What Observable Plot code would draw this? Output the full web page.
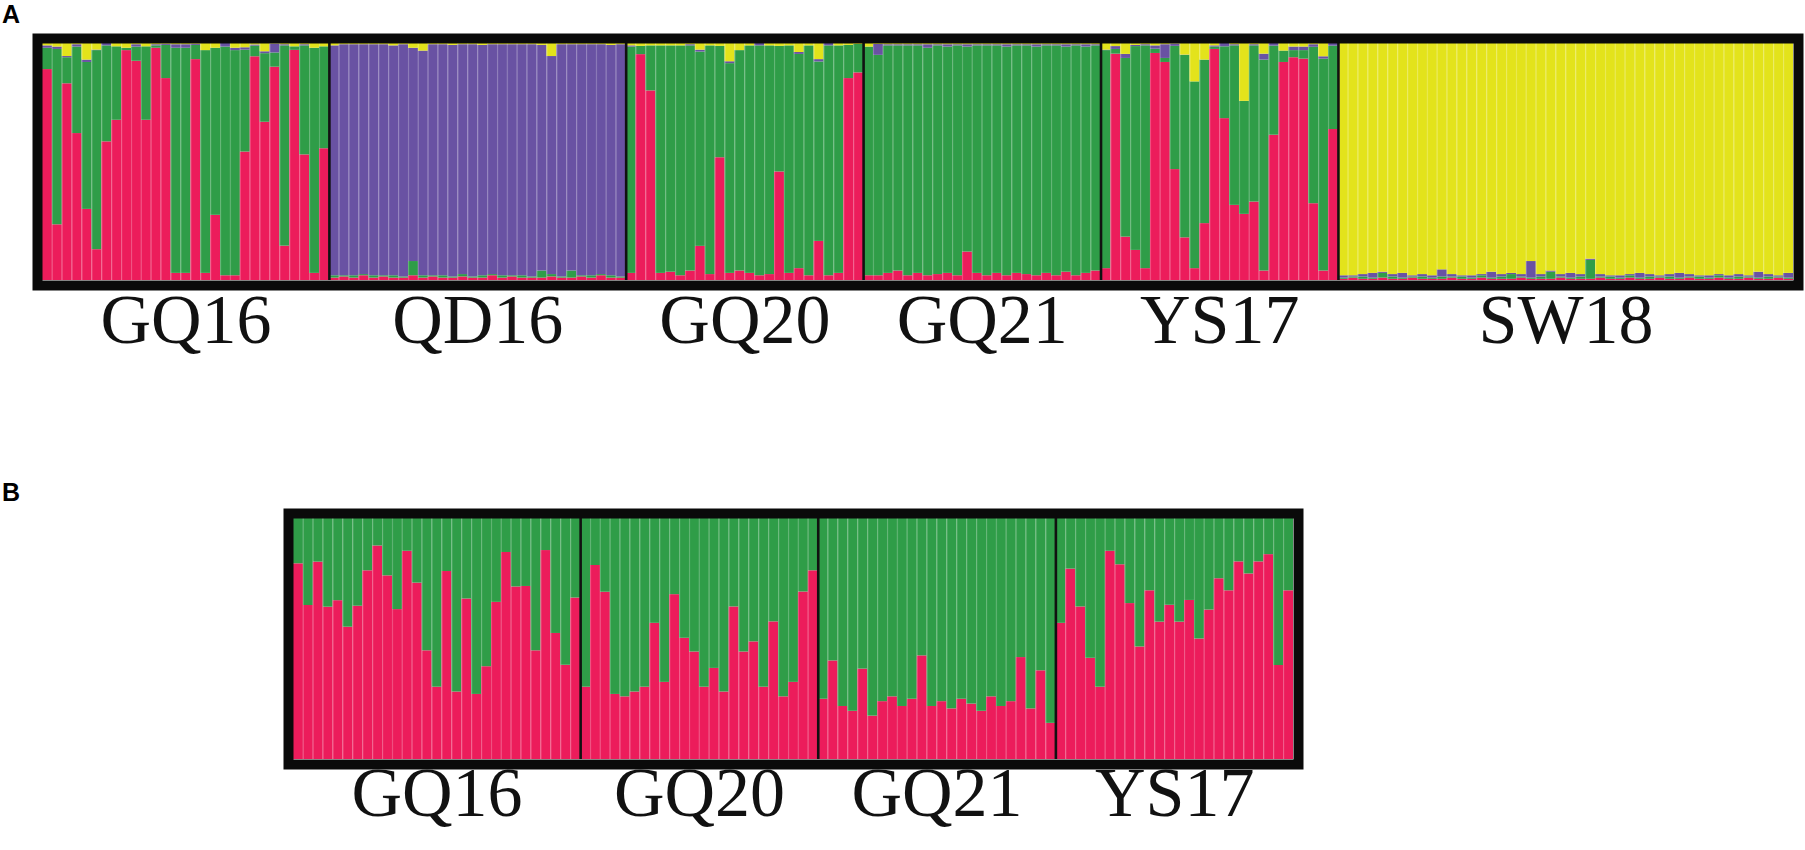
<!DOCTYPE html>
<html><head><meta charset="utf-8">
<script src="https://cdn.jsdelivr.net/npm/d3@7"></script>
<script src="https://cdn.jsdelivr.net/npm/@observablehq/plot@0.6"></script>
<style>
body{margin:0;background:#fff;}
#wrap{position:relative;width:1805px;height:850px;overflow:hidden;background:#fff;}
.pl{position:absolute;font:bold 25px "Liberation Sans",Arial,sans-serif;line-height:29px;color:#000;}
.chart{position:absolute;left:0;}
</style></head><body>
<div id="wrap">
<div id="chartA" class="chart" style="top:0px"></div>
<div id="chartB" class="chart" style="top:440px"></div>
<div class="pl" style="top:0px;left:2px">A</div>
<div class="pl" style="top:478px;left:2px">B</div>
</div>
<script>
const clusters = ["K1","K2","K3","K4"];   // red, green, purple, yellow
const clusterColors = ["#EC1C5B","#2F9D48","#6952A3","#E3E31B"];
const groupsA = ["GQ16","QD16","GQ20","GQ21","YS17","SW18"];
const groupsB = ["GQ16","GQ20","GQ21","YS17"];

// Panel A: membership of each individual [K1 red, K2 green, K3 purple, K4 yellow]
const A_GQ16 = [
 [.89,.09,.01,.01],[.235,.74,.01,.015],[.83,.11,.005,.055],[.62,.365,.01,.005],[.30,.62,.01,.07],
 [.13,.84,.002,.028],[.585,.405,.01,0],[.676,.31,0,.014],[.97,.01,0,.02],[.925,.06,.01,.005],
 [.676,.31,0,.014],[.98,.01,.005,.005],[.852,.14,.005,.003],[.03,.95,.015,.005],[.03,.95,.015,.005],
 [.932,.06,.005,.003],[.03,.94,0,.03],[.275,.705,0,.02],[.02,.965,.015,0],[.02,.95,.01,.02],
 [.542,.43,.01,.018],[.944,.045,.005,.006],[.669,.29,.008,.035],[.90,.06,.038,.002],[.145,.845,.005,.005],
 [.97,.015,0,.014],[.53,.46,.005,.005],[.03,.95,0,.02],[.556,.43,0,.014]
];
const A_QD16 = [
 [.01,.01,.97,.01],[.015,.005,.975,.005],[.01,.01,.975,.005],[.02,.005,.97,.005],[.01,.01,.975,.005],
 [.015,.005,.975,.005],[.01,.01,.97,.01],[.01,.005,.98,.005],[.02,.06,.90,.02],[.01,.01,.948,.032],
 [.015,.005,.975,.005],[.01,.01,.975,.005],[.01,.005,.977,.008],[.015,.01,.97,.005],[.01,.005,.98,.005],
 [.01,.01,.972,.008],[.02,.005,.97,.005],[.01,.01,.975,.005],[.015,.005,.975,.005],[.01,.01,.975,.005],
 [.01,.005,.98,.005],[.01,.03,.952,.008],[.015,.01,.92,.055],[.01,.005,.98,.005],[.01,.03,.955,.005],
 [.015,.005,.975,.005],[.01,.01,.975,.005],[.02,.005,.97,.005],[.01,.01,.972,.008],[.01,.005,.98,.005]
];
const A_GQ20 = [
 [.03,.955,.005,.01],[.953,.035,0,.012],[.80,.19,0,.01],[.03,.96,0,.01],[.035,.955,0,.01],
 [.02,.97,0,.01],[.04,.95,.005,.005],[.144,.82,.008,.028],[.025,.965,0,.01],[.518,.47,0,.012],
 [.03,.885,.008,.077],[.04,.93,0,.03],[.03,.96,0,.01],[.02,.97,.01,0],[.025,.965,0,.01],
 [.458,.53,0,.012],[.03,.96,0,.01],[.05,.904,.008,.038],[.02,.97,0,.01],[.165,.757,.01,.068],
 [.02,.97,.01,0],[.03,.96,0,.01],[.852,.14,0,.008],[.876,.12,0,.004]
];
const A_GQ21 = [
 [.02,.965,0,.015],[.02,.93,.046,.004],[.03,.96,.005,.005],[.04,.95,.005,.005],[.02,.97,.005,.005],
 [.03,.96,.005,.005],[.02,.96,.015,.005],[.025,.965,.005,.005],[.03,.955,.01,.005],[.02,.97,.005,.005],
 [.12,.865,.01,.005],[.03,.96,.005,.005],[.02,.97,.005,.005],[.03,.96,.005,.005],[.02,.965,.01,.005],
 [.03,.96,.005,.005],[.025,.965,.005,.005],[.02,.965,.01,.005],[.03,.96,.005,.005],[.02,.97,.005,.005],
 [.035,.95,.01,.005],[.02,.97,.005,.005],[.03,.955,.01,.005],[.04,.95,.005,.005]
];
const A_YS17 = [
 [.05,.92,.002,.028],[.955,.02,.012,.013],[.183,.754,.017,.046],[.127,.86,.005,.008],[.05,.94,.005,.005],
 [.958,.018,.014,.01],[.92,.017,.058,.005],[.468,.52,.01,.002],[.18,.77,.001,.049],[.05,.788,0,.162],
 [.24,.69,0,.07],[.975,.01,.005,.01],[.683,.303,.014,0],[.317,.673,.005,.005],[.279,.477,0,.244],
 [.331,.659,.005,.005],[.04,.89,.025,.045],[.613,.376,.011,0],[.92,.048,0,.032],[.94,.03,.015,.015],
 [.934,.036,.015,.015],[.324,.66,.011,.005],[.04,.894,.01,.056],[.637,.352,.011,0]
];
const A_SW18 = [
 [.005,.005,.01,.98],[.01,.005,.005,.98],[.005,.01,.01,.975],[.005,.005,.02,.97],[.01,.02,.005,.965],
 [.005,.01,.01,.975],[.005,.005,.02,.97],[.01,.005,.005,.98],[.005,.01,.01,.975],[.005,.005,.01,.98],
 [.005,.01,.03,.955],[.01,.005,.01,.975],[.005,.01,.005,.98],[.005,.005,.01,.98],[.01,.01,.005,.975],
 [.005,.005,.025,.965],[.005,.01,.01,.975],[.005,.02,.005,.97],[.01,.005,.01,.975],[.005,.005,.07,.92],
 [.005,.01,.01,.975],[.005,.03,.005,.96],[.01,.005,.01,.975],[.005,.005,.02,.97],[.005,.01,.01,.975],
 [.005,.08,.005,.91],[.01,.005,.01,.975],[.005,.01,.005,.98],[.005,.005,.01,.98],[.01,.01,.005,.975],
 [.005,.005,.02,.97],[.005,.01,.01,.975],[.01,.005,.005,.98],[.005,.01,.01,.975],[.005,.005,.02,.97],
 [.01,.005,.01,.975],[.005,.01,.005,.98],[.005,.005,.01,.98],[.01,.01,.005,.975],[.005,.005,.01,.98],
 [.005,.01,.01,.975],[.01,.005,.005,.98],[.005,.005,.025,.965],[.005,.01,.01,.975],[.01,.005,.005,.98],
 [.005,.005,.02,.97]
];

// Panel B: membership of each individual [K1 red, K2 green]
const B_GQ16 = [
 [.812,.188],[.639,.361],[.819,.181],[.632,.368],[.659,.341],[.549,.451],[.636,.364],[.783,.217],
 [.886,.114],[.762,.238],[.622,.378],[.864,.136],[.732,.268],[.451,.549],[.30,.70],[.78,.22],
 [.28,.72],[.666,.334],[.27,.73],[.385,.615],[.652,.348],[.859,.141],[.716,.284],[.718,.282],
 [.451,.549],[.867,.133],[.523,.477],[.391,.609],[.67,.33]
];
const B_GQ20 = [
 [.30,.70],[.805,.195],[.694,.306],[.27,.73],[.26,.74],[.28,.72],[.30,.70],[.565,.435],
 [.32,.68],[.684,.316],[.503,.497],[.446,.554],[.30,.70],[.378,.622],[.28,.72],[.633,.367],
 [.446,.554],[.488,.512],[.30,.70],[.571,.429],[.26,.74],[.32,.68],[.695,.305],[.783,.217]
];
const B_GQ21 = [
 [.25,.75],[.409,.591],[.22,.78],[.20,.80],[.375,.625],[.18,.82],[.24,.76],[.26,.74],
 [.22,.78],[.25,.75],[.43,.57],[.22,.78],[.24,.76],[.21,.79],[.25,.75],[.23,.77],
 [.20,.80],[.26,.74],[.22,.78],[.24,.76],[.423,.577],[.21,.79],[.368,.632],[.15,.85]
];
const B_YS17 = [
 [.565,.435],[.79,.21],[.633,.367],[.42,.58],[.30,.70],[.864,.136],[.808,.192],[.647,.353],
 [.467,.533],[.70,.30],[.57,.43],[.64,.36],[.57,.43],[.66,.34],[.50,.50],[.62,.38],
 [.75,.25],[.70,.30],[.82,.18],[.77,.23],[.82,.18],[.85,.15],[.39,.61],[.70,.30]
];

function build(groups, rows) {
  const data = [], bounds = [], centers = [], seps = [];
  let i = 0;
  groups.forEach((g, gi) => {
    const start = i;
    rows[gi].forEach(q => {
      q.forEach((v, c) => data.push({i0: i, i1: i + 1, cluster: clusters[c], q: v}));
      i++;
      seps.push(i);
    });
    centers.push({name: g, x: (start + i) / 2});
    bounds.push(i);
  });
  return {data, n: i, bounds: bounds.slice(0, -1), centers, seps: seps.slice(0, -1)};
}

function structurePlot(b, opts) {
  return Plot.plot({
    width: 1805, height: opts.height,
    marginLeft: opts.ml, marginRight: opts.mr, marginTop: opts.mt, marginBottom: opts.mb,
    x: {domain: [0, b.n], axis: null},
    y: {domain: [0, 1], axis: null},
    color: {type: "ordinal", domain: clusters, range: clusterColors},
    style: {background: "transparent", overflow: "visible"},
    marks: [
      Plot.rectY(b.data, {x1: "i0", x2: "i1", y: "q", fill: "cluster", order: clusters, offset: "normalize"}),
      Plot.ruleX(b.seps, {x: d => d, stroke: "white", strokeOpacity: 0.22, strokeWidth: 1.2}),
      Plot.ruleX(b.bounds, {x: d => d, stroke: "#111", strokeWidth: 2.6}),
      Plot.frame({stroke: "#0a0a0a", strokeWidth: 10, inset: -5}),
      Plot.text(b.centers, {x: "x", text: "name", frameAnchor: "bottom", lineAnchor: "bottom",
        dy: opts.labelDy, fontSize: opts.fontSize, fontFamily: "Liberation Serif, Times New Roman, serif", fill: "#111"})
    ]
  });
}

const bA = build(groupsA, [A_GQ16, A_QD16, A_GQ20, A_GQ21, A_YS17, A_SW18]);
const bB = build(groupsB, [B_GQ16, B_GQ20, B_GQ21, B_YS17]);

document.getElementById("chartA").appendChild(
  structurePlot(bA, {height: 380, ml: 42, mr: 12, mt: 43, mb: 100, labelDy: 62, fontSize: 70}));
document.getElementById("chartB").appendChild(
  structurePlot(bB, {height: 400, ml: 293, mr: 512, mt: 78, mb: 81, labelDy: 56, fontSize: 70}));
</script>
</body></html>
